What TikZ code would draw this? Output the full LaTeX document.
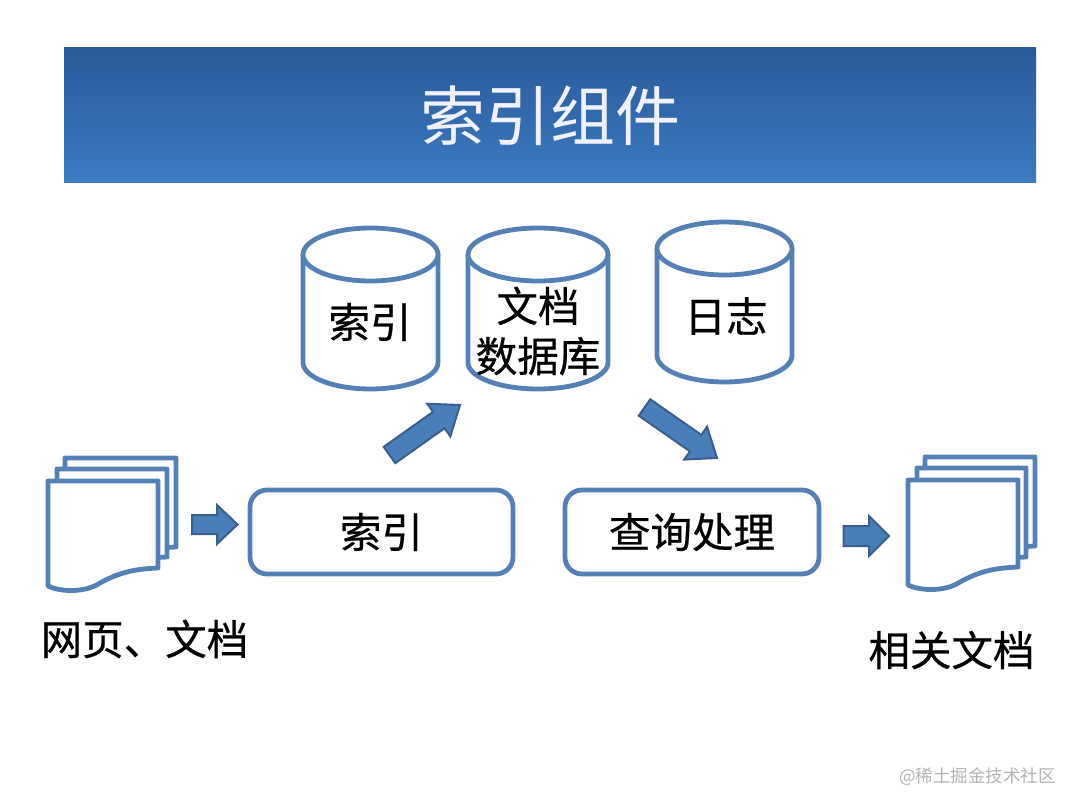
\documentclass[tikz,border=0pt]{standalone}
\usepackage{fontspec}
\setmainfont{Noto Sans CJK SC}
\newfontfamily\heavyfont[FakeBold=0.6]{Noto Sans CJK SC}
\usetikzlibrary{calc}
\definecolor{lineblue}{HTML}{5580B5}
\definecolor{arrowfill}{HTML}{4A7EBB}
\definecolor{arrowline}{HTML}{3A5F8C}
\definecolor{bandtop}{HTML}{2A5A9A}
\definecolor{bandbot}{HTML}{3C7AC2}
\definecolor{marktext}{HTML}{B4B4B4}
\tikzset{
  outline/.style={draw=lineblue,line width=4.8pt,line join=round,fill=white},
  boxnode/.style={outline,rounded corners=17pt,inner sep=0pt,font=\heavyfont\fontsize{41.5}{41.5}\selectfont,text=black},
  label/.style={inner sep=0pt,font=\heavyfont\fontsize{41.5}{50}\selectfont,text=black,align=center},
  blockarrow/.style={fill=arrowfill,draw=arrowline,line width=2pt,line join=miter}
}
% block arrow between two named coordinates: half shaft, half head, head length
\newcommand{\blockarr}[5]{%
  \coordinate (J) at ($(#2)!#5pt!(#1)$);
  \draw[blockarrow]
    ($(#1)!#3pt!90:(#2)$) -- ($(J)!#3pt!-90:(#1)$) -- ($(J)!#4pt!-90:(#1)$) -- (#2)
    -- ($(J)!#4pt!90:(#1)$) -- ($(J)!#3pt!90:(#1)$) -- ($(#1)!#3pt!-90:(#2)$) -- cycle;
}
\newcommand{\dbcyl}[6]{% name, x0, x1, top, ellipse bottom, bottom
  \pgfmathsetmacro{\xm}{(#2+#3)/2}
  \pgfmathsetmacro{\ry}{(#5-#4)/2}
  \pgfmathsetmacro{\rx}{(#3-#2)/2}
  \pgfmathsetmacro{\yc}{(#4+#5)/2}
  \pgfmathsetmacro{\ys}{#6-\ry}
  \draw[outline] (#2,\yc) -- (#2,\ys) arc[start angle=180,end angle=360,x radius=\rx,y radius=-\ry] -- (#3,\yc);
  \draw[outline] (\xm,\yc) ellipse[x radius=\rx,y radius=\ry];
}
\newcommand{\docsheet}[4]{% x0, x1, top, right bottom
  \draw[outline] (#1,#3) -- (#2,#3) -- (#2,#4)
    .. controls ({#2-23},{#4+1}) and ({#2-38},{#4+4}) .. ({#2-58},{#4+15})
    .. controls ({#2-73},{#4+25}) and ({#2-98},{#4+24}) .. (#1,{#4+18}) -- cycle;
}
\begin{document}
\begin{tikzpicture}[x=1pt,y=-1pt]
\useasboundingbox (0,0) rectangle (1080,810);
\fill[white] (0,0) rectangle (1080,810);
% title band
\node[minimum width=972pt,minimum height=135pt,inner sep=0pt,top color=bandtop,bottom color=bandbot,
  text=white!94!blue,font=\fontsize{65}{65}\selectfont] (title) at (550,115.5) {索引组件};
% cylinders
\dbcyl{c1}{303}{438}{228}{281}{389}
\node[label] (dbindex) at (370,322) {索引};
\dbcyl{c2}{468}{608}{228}{281}{389}
\node[label] (dbdocs) at (538,331) {文档\\数据库};
\dbcyl{c3}{657}{792}{222}{275}{382}
\node[label] (dblog) at (726,316) {日志};
% process boxes
\node[boxnode,minimum width=263pt,minimum height=84pt] (indexer) at (381.5,532) {索引};
\node[boxnode,minimum width=254pt,minimum height=84pt] (query) at (692,532) {查询处理};
% left documents
\docsheet{65}{176}{458}{547}
\docsheet{57}{167}{469}{557}
\docsheet{48}{158}{481}{568}
\coordinate (docsL) at (192,524.5);
\coordinate (docsLtip) at (237.5,524.5);
\blockarr{docsL}{docsLtip}{9.5}{19.5}{20.5}
% right documents
\docsheet{925}{1035}{457}{546}
\docsheet{917}{1026}{468}{557}
\docsheet{908}{1018}{480}{567}
\coordinate (resL) at (843.5,536);
\coordinate (resLtip) at (889,536);
\blockarr{resL}{resLtip}{10}{20}{20}
% diagonal arrows
\coordinate (upA) at (389.5,455);
\coordinate (upB) at (460,405);
\blockarr{upA}{upB}{10}{20}{26}
\coordinate (dnA) at (644.5,407.5);
\coordinate (dnB) at (717,458);
\blockarr{dnA}{dnB}{10}{20}{26}
% labels
\node[label] (webdocs) at (144.5,639) {网页、文档};
\node[label] (related) at (951.5,650) {相关文档};
\node[inner sep=0pt,text=marktext,font=\fontsize{17.5}{18}\selectfont] (mark) at (977.5,777) {@稀土掘金技术社区};
\end{tikzpicture}
\end{document}
